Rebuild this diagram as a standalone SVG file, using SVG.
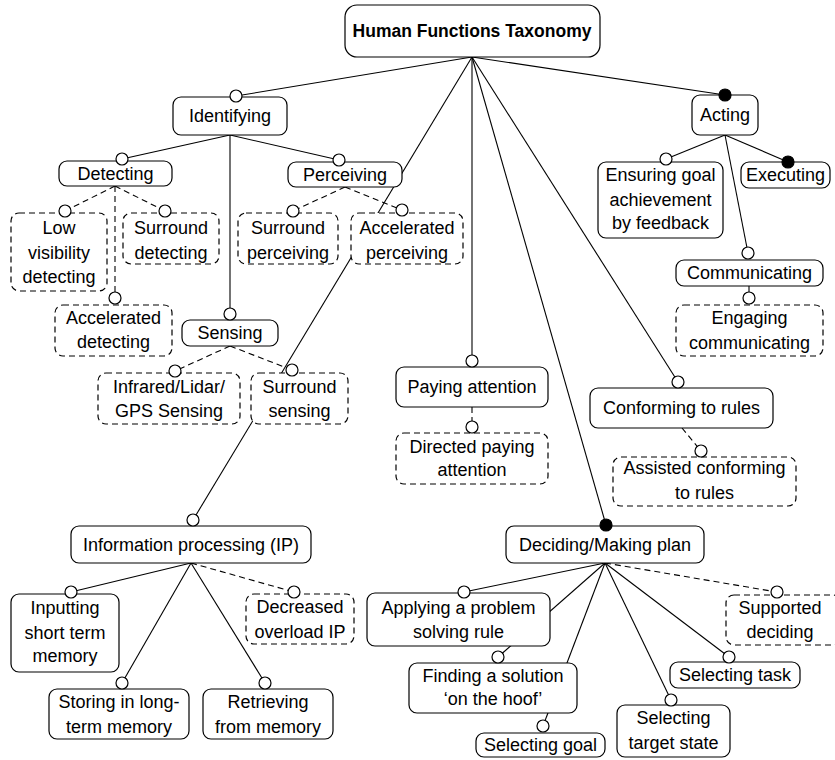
<svg xmlns="http://www.w3.org/2000/svg" width="835" height="760" viewBox="0 0 835 760">
<style>
.b{fill:#fff;stroke:#000;stroke-width:1.2}
.d{fill:#fff;stroke:#000;stroke-width:1.2;stroke-dasharray:6 4}
.c{fill:#fff;stroke:#000;stroke-width:1.2}
.f{fill:#000;stroke:#000;stroke-width:1.2}
.l{fill:none;stroke:#000;stroke-width:1.1}
.ld{fill:none;stroke:#000;stroke-width:1.1;stroke-dasharray:6 4}
text{font-family:"Liberation Sans",Arial,sans-serif;font-size:18px;text-anchor:middle;fill:#000}
.t{font-weight:bold;font-size:17.5px}
</style>
<rect width="835" height="760" fill="#fff"/>
<g id="connectors">
<line class="l" x1="472" y1="57" x2="236" y2="96"/>
<line class="l" x1="472" y1="57" x2="472" y2="361"/>
<line class="l" x1="472" y1="57" x2="193" y2="520"/>
<line class="l" x1="472" y1="57" x2="606" y2="525"/>
<line class="l" x1="472" y1="57" x2="678" y2="382"/>
<line class="l" x1="472" y1="57" x2="725" y2="95"/>
<line class="l" x1="230" y1="135" x2="122" y2="159"/>
<line class="l" x1="230" y1="135" x2="339" y2="160"/>
<line class="l" x1="230" y1="135" x2="230" y2="314"/>
<line class="l" x1="725" y1="135" x2="666" y2="159"/>
<line class="l" x1="725" y1="135" x2="788" y2="162"/>
<line class="l" x1="725" y1="135" x2="748" y2="253"/>
<line class="l" x1="191" y1="563" x2="71" y2="592"/>
<line class="l" x1="191" y1="563" x2="122" y2="683"/>
<line class="l" x1="191" y1="563" x2="265" y2="683"/>
<line class="l" x1="605" y1="563" x2="464" y2="592"/>
<line class="l" x1="605" y1="563" x2="498" y2="657"/>
<line class="l" x1="605" y1="563" x2="543" y2="726"/>
<line class="l" x1="605" y1="563" x2="671" y2="700"/>
<line class="l" x1="605" y1="563" x2="729" y2="657"/>
<line class="ld" x1="115" y1="186" x2="65" y2="211"/>
<line class="ld" x1="115" y1="186" x2="165" y2="211"/>
<line class="ld" x1="115" y1="186" x2="115" y2="298"/>
<line class="ld" x1="345" y1="187" x2="293" y2="211"/>
<line class="ld" x1="345" y1="187" x2="402" y2="210"/>
<line class="ld" x1="230" y1="346" x2="175" y2="371"/>
<line class="ld" x1="230" y1="346" x2="292" y2="370"/>
<line class="ld" x1="472" y1="407" x2="472" y2="427"/>
<line class="ld" x1="682" y1="428" x2="701" y2="451"/>
<line class="ld" x1="749" y1="286" x2="749" y2="298"/>
<line class="ld" x1="191" y1="563" x2="294" y2="592"/>
<line class="ld" x1="605" y1="563" x2="777" y2="592"/>
</g>
<g id="title"><rect class="b" x="345" y="5" width="255" height="52" rx="12"/><text class="t" x="472" y="37">Human Functions Taxonomy</text></g>
<g id="identifying"><rect class="b" x="173" y="97" width="114" height="38" rx="8"/><text x="230" y="122">Identifying</text><circle class="c" cx="236" cy="96" r="6"/></g>
<g id="detecting"><rect class="b" x="59" y="161" width="113" height="25" rx="8"/><text x="115.5" y="180">Detecting</text><circle class="c" cx="122" cy="159" r="6"/></g>
<g id="perceiving"><rect class="b" x="288" y="162" width="114" height="25" rx="8"/><text x="345" y="181">Perceiving</text><circle class="c" cx="339" cy="160" r="6"/></g>
<g id="lowvis"><rect class="d" x="11" y="213" width="96" height="78" rx="8"/><text x="59" y="234">Low</text><text x="59" y="259">visibility</text><text x="59" y="283">detecting</text><circle class="c" cx="65" cy="211" r="6"/></g>
<g id="surrdet"><rect class="d" x="123" y="213" width="96" height="51" rx="8"/><text x="171" y="234">Surround</text><text x="171" y="259">detecting</text><circle class="c" cx="165" cy="211" r="6"/></g>
<g id="surrperc"><rect class="d" x="238" y="213" width="100" height="51" rx="8"/><text x="288" y="234">Surround</text><text x="288" y="259">perceiving</text><circle class="c" cx="293" cy="211" r="6"/></g>
<g id="accperc"><rect class="d" x="351" y="213" width="112" height="51" rx="8"/><text x="407" y="234">Accelerated</text><text x="407" y="259">perceiving</text><circle class="c" cx="402" cy="210" r="6"/></g>
<g id="accdet"><rect class="d" x="55" y="305" width="117" height="51" rx="8"/><text x="113.5" y="324">Accelerated</text><text x="113.5" y="348">detecting</text><circle class="c" cx="115" cy="298" r="6"/></g>
<g id="sensing"><rect class="b" x="182" y="320" width="96" height="26" rx="8"/><text x="230" y="339">Sensing</text><circle class="c" cx="230" cy="314" r="6"/></g>
<g id="infrared"><rect class="d" x="98" y="373" width="142" height="51" rx="8"/><text x="169" y="393">Infrared/Lidar/</text><text x="169" y="417">GPS Sensing</text><circle class="c" cx="175" cy="371" r="6"/></g>
<g id="surrsens"><rect class="d" x="251" y="373" width="97" height="51" rx="8"/><text x="299.5" y="393">Surround</text><text x="299.5" y="417">sensing</text><circle class="c" cx="292" cy="370" r="6"/></g>
<g id="paying"><rect class="b" x="396" y="367" width="152" height="40" rx="8"/><text x="472" y="393">Paying attention</text><circle class="c" cx="472" cy="361" r="6"/></g>
<g id="directed"><rect class="d" x="396" y="433" width="152" height="51" rx="8"/><text x="472" y="453">Directed paying</text><text x="472" y="476">attention</text><circle class="c" cx="472" cy="427" r="6"/></g>
<g id="acting"><rect class="b" x="692" y="95" width="66" height="40" rx="8"/><text x="725" y="121">Acting</text><circle class="f" cx="725" cy="95" r="6"/></g>
<g id="ensuring"><rect class="b" x="598" y="162" width="125" height="76" rx="8"/><text x="660.5" y="181">Ensuring goal</text><text x="660.5" y="206">achievement</text><text x="660.5" y="229">by feedback</text><circle class="c" cx="666" cy="159" r="6"/></g>
<g id="executing"><rect class="b" x="741" y="162" width="89" height="26" rx="8"/><text x="785.5" y="181">Executing</text><circle class="f" cx="788" cy="162" r="6"/></g>
<g id="communicating"><rect class="b" x="676" y="260" width="147" height="26" rx="8"/><text x="749.5" y="279">Communicating</text><circle class="c" cx="748" cy="253" r="6"/></g>
<g id="engaging"><rect class="d" x="676" y="305" width="147" height="51" rx="8"/><text x="749.5" y="324">Engaging</text><text x="749.5" y="349">communicating</text><circle class="c" cx="749" cy="298" r="6"/></g>
<g id="conforming"><rect class="b" x="590" y="388" width="183" height="40" rx="8"/><text x="681.5" y="414">Conforming to rules</text><circle class="c" cx="678" cy="382" r="6"/></g>
<g id="assisted"><rect class="d" x="613" y="457" width="183" height="49" rx="8"/><text x="704.5" y="474">Assisted conforming</text><text x="704.5" y="499">to rules</text><circle class="c" cx="701" cy="451" r="6"/></g>
<g id="ip"><rect class="b" x="71" y="526" width="240" height="37" rx="8"/><text x="191" y="551">Information processing (IP)</text><circle class="c" cx="193" cy="520" r="6"/></g>
<g id="inputting"><rect class="b" x="11" y="594" width="108" height="78" rx="8"/><text x="65" y="614">Inputting</text><text x="65" y="639">short term</text><text x="65" y="662">memory</text><circle class="c" cx="71" cy="592" r="6"/></g>
<g id="storing"><rect class="b" x="49" y="689" width="140" height="50" rx="8"/><text x="119" y="708">Storing in long-</text><text x="119" y="733">term memory</text><circle class="c" cx="122" cy="683" r="6"/></g>
<g id="retrieving"><rect class="b" x="203" y="689" width="130" height="50" rx="8"/><text x="268" y="708">Retrieving</text><text x="268" y="733">from memory</text><circle class="c" cx="265" cy="683" r="6"/></g>
<g id="decreased"><rect class="d" x="246" y="594" width="108" height="50" rx="8"/><text x="300" y="613">Decreased</text><text x="300" y="638">overload IP</text><circle class="c" cx="294" cy="592" r="6"/></g>
<g id="deciding"><rect class="b" x="506" y="526" width="198" height="37" rx="8"/><text x="605" y="551">Deciding/Making plan</text><circle class="f" cx="606" cy="525" r="6"/></g>
<g id="applying"><rect class="b" x="367" y="593" width="183" height="53" rx="8"/><text x="458.5" y="614">Applying a problem</text><text x="458.5" y="638">solving rule</text><circle class="c" cx="464" cy="592" r="6"/></g>
<g id="finding"><rect class="b" x="409" y="663" width="168" height="50" rx="8"/><text x="493" y="682">Finding a solution</text><text x="493" y="705">‘on the hoof’</text><circle class="c" cx="498" cy="657" r="6"/></g>
<g id="selgoal"><rect class="b" x="476" y="733" width="129" height="24" rx="8"/><text x="540.5" y="751">Selecting goal</text><circle class="c" cx="543" cy="726" r="6"/></g>
<g id="seltarget"><rect class="b" x="617" y="705" width="113" height="52" rx="8"/><text x="673.5" y="724">Selecting</text><text x="673.5" y="749">target state</text><circle class="c" cx="671" cy="700" r="6"/></g>
<g id="seltask"><rect class="b" x="670" y="662" width="130" height="26" rx="8"/><text x="735" y="681">Selecting task</text><circle class="c" cx="729" cy="657" r="6"/></g>
<g id="supported"><rect class="d" x="726" y="595" width="115" height="50" rx="8"/><text x="780" y="614">Supported</text><text x="780" y="638">deciding</text><circle class="c" cx="777" cy="592" r="6"/></g>
</svg>
